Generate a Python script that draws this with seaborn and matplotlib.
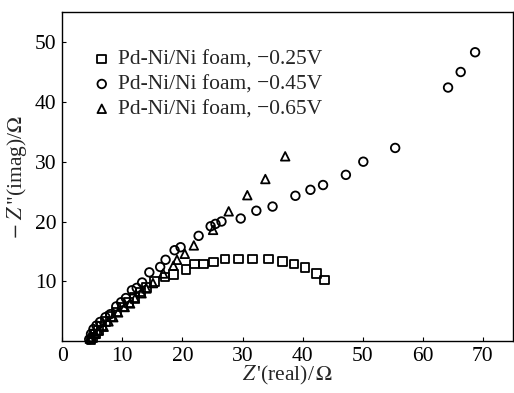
import pandas as pd
import matplotlib
matplotlib.use("Agg")
import matplotlib.pyplot as plt
import seaborn as sns

# data (Z' real, -Z'' imag), ohm
sq_x = [4.8, 5.1, 5.5, 6.0, 6.5, 7.2, 8.0, 9.0, 10.0, 11.0, 12.0, 13.0, 14.0, 15.4,
        17.1, 18.5, 20.6, 22.0, 23.5, 25.2, 27.1, 29.3, 31.7, 34.3, 36.7, 38.6, 40.4, 42.3, 43.6]
sq_y = [0.2, 0.6, 1.2, 1.8, 2.5, 3.3, 4.1, 4.9, 5.7, 6.5, 7.3, 8.2, 9.0, 10.0,
        10.7, 11.1, 12.0, 12.9, 12.9, 13.2, 13.7, 13.7, 13.7, 13.7, 13.3, 12.9, 12.3, 11.3, 10.2]

ci_x = [4.5, 4.8, 5.2, 5.7, 6.3, 7.2, 8.0, 9.0, 9.8, 10.6, 11.6, 12.4, 13.3, 14.5, 16.3,
        17.2, 18.7, 19.7, 22.7, 24.7, 25.5, 26.5, 29.7, 32.3, 35.0, 38.8, 41.3, 43.4,
        47.2, 50.1, 55.4, 64.2, 66.3, 68.7]
ci_y = [0.3, 1.2, 2.0, 2.6, 3.2, 4.0, 4.5, 5.8, 6.5, 7.2, 8.5, 8.9, 9.8, 11.5, 12.4,
        13.6, 15.2, 15.7, 17.6, 19.2, 19.6, 20.0, 20.5, 21.8, 22.5, 24.3, 25.3, 26.1,
        27.8, 30.0, 32.3, 42.4, 45.0, 48.3]

tr_x = [4.6, 4.9, 5.5, 6.0, 6.9, 7.7, 8.5, 9.3, 10.4, 11.3, 12.1, 13.2, 14.0, 15.1,
        16.8, 18.5, 19.1, 20.4, 21.9, 25.1, 27.7, 30.8, 33.8, 37.1]
tr_y = [0.4, 0.7, 1.2, 1.8, 2.4, 3.3, 4.0, 4.8, 5.7, 6.3, 7.1, 8.0, 8.8, 9.7,
        11.3, 12.6, 13.6, 14.6, 16.0, 18.6, 21.7, 24.4, 27.1, 30.9]

labels = ["Pd-Ni/Ni foam, \u22120.25V", "Pd-Ni/Ni foam, \u22120.45V", "Pd-Ni/Ni foam, \u22120.65V"]

sns.set_theme(style="white")
plt.rcParams['font.family'] = ['Liberation Serif', 'DejaVu Serif']
plt.rcParams['mathtext.fontset'] = 'stix'

fig, ax = plt.subplots(figsize=(5.14, 3.93), dpi=100)

series = [(sq_x, sq_y, 's', labels[0]), (ci_x, ci_y, 'o', labels[1]), (tr_x, tr_y, '^', labels[2])]
for xs, ys, mk, lab in series:
    df = pd.DataFrame({'real': xs, 'imag': ys})
    sns.scatterplot(data=df, x='real', y='imag', marker=mk, s=38, facecolors='none',
                    edgecolor='black', linewidth=1.3, label=lab, ax=ax, clip_on=False)

ax.set_xlim(0, 75)
ax.set_ylim(0, 55)
ax.set_xticks([0, 10, 20, 30, 40, 50, 60, 70])
ax.set_yticks([10, 20, 30, 40, 50])
ax.tick_params(direction='in', length=3, width=0.8, labelsize=15.5, colors='black',
               bottom=True, left=True, pad=4)
for sp in ax.spines.values():
    sp.set_color('black')
    sp.set_linewidth(1.0)

ax.set_xlabel(r"$Z\,$'(real)/$\,\Omega$", fontsize=15.5, labelpad=-1)
ax.set_ylabel(r'$-\ Z\,$"(imag)/$\Omega$', fontsize=15.5, labelpad=4)

leg = ax.legend(loc='upper left', bbox_to_anchor=(0.04, 0.912), frameon=False, fontsize=15.5,
                handlelength=1.2, handletextpad=0.15, labelspacing=0.22, borderaxespad=0)

fig.subplots_adjust(left=0.121, right=0.998, top=0.969, bottom=0.132)
fig.savefig("out.png", dpi=100)
